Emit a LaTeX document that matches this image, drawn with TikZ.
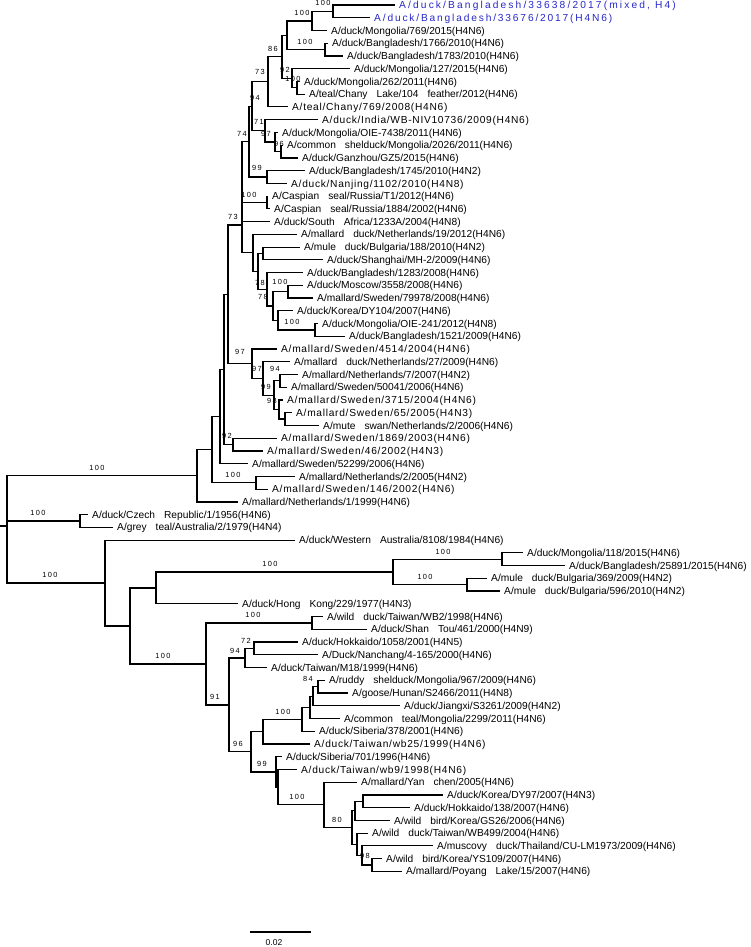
\documentclass[tikz,border=0pt]{standalone}
\usepackage{fontspec}
\setmainfont{Liberation Sans}
\newfontfamily\widefont[LetterSpace=7]{Liberation Sans}
\newfontfamily\bluefont[LetterSpace=18]{Liberation Sans}
\newfontfamily\bluewidefont[LetterSpace=21]{Liberation Sans}
\newfontfamily\bootfont[LetterSpace=18]{Liberation Sans}
\definecolor{strainblue}{RGB}{40,40,200}
\newcommand{\gap}{\hspace{9pt}}

\begin{document}
\begin{tikzpicture}[x=1pt,y=-1pt,
  branch/.style={line width=1.2pt},
  tip/.style={anchor=west,inner xsep=4pt,inner ysep=0pt,text height=8.3pt,text depth=1pt,
    font=\fontsize{10.2}{12}\selectfont},
  widetip/.style={tip,font=\widefont\fontsize{10.2}{12}\selectfont},
  bluetip/.style={tip,text=strainblue,font=\bluefont\fontsize{10.2}{12}\selectfont},
  bluewidetip/.style={tip,text=strainblue,font=\bluewidefont\fontsize{10.2}{12}\selectfont},
  boot/.style={inner sep=0pt,font=\bootfont\fontsize{7.4}{8}\selectfont}]
  \useasboundingbox (0,0) rectangle (750,947);

  % strains
  \node[bluewidetip] (t1) at (395,5.0) {A/duck/Bangladesh/33638/2017(mixed, H4)};
  \node[bluetip] (t2) at (370,17.7) {A/duck/Bangladesh/33676/2017(H4N6)};
  \node[tip] (t3) at (327,30.5) {A/duck/Mongolia/769/2015(H4N6)};
  \node[tip] (t4) at (328,43.2) {A/duck/Bangladesh/1766/2010(H4N6)};
  \node[tip] (t5) at (343,56.0) {A/duck/Bangladesh/1783/2010(H4N6)};
  \node[tip] (t6) at (350,68.7) {A/duck/Mongolia/127/2015(H4N6)};
  \node[tip] (t7) at (300,81.4) {A/duck/Mongolia/262/2011(H4N6)};
  \node[tip] (t8) at (305,94.2) {A/teal/Chany\gap Lake/104\gap feather/2012(H4N6)};
  \node[widetip] (t9) at (288,106.9) {A/teal/Chany/769/2008(H4N6)};
  \node[widetip] (t10) at (318,119.7) {A/duck/India/WB-NIV10736/2009(H4N6)};
  \node[tip] (t11) at (278,132.4) {A/duck/Mongolia/OIE-7438/2011(H4N6)};
  \node[tip] (t12) at (283,145.1) {A/common\gap shelduck/Mongolia/2026/2011(H4N6)};
  \node[tip] (t13) at (298,157.9) {A/duck/Ganzhou/GZ5/2015(H4N6)};
  \node[tip] (t14) at (305,170.6) {A/duck/Bangladesh/1745/2010(H4N2)};
  \node[widetip] (t15) at (287,183.4) {A/duck/Nanjing/1102/2010(H4N8)};
  \node[tip] (t16) at (268,196.1) {A/Caspian\gap seal/Russia/T1/2012(H4N6)};
  \node[tip] (t17) at (270,208.8) {A/Caspian\gap seal/Russia/1884/2002(H4N6)};
  \node[tip] (t18) at (270,221.6) {A/duck/South\gap Africa/1233A/2004(H4N8)};
  \node[tip] (t19) at (297,234.3) {A/mallard\gap duck/Netherlands/19/2012(H4N6)};
  \node[tip] (t20) at (300,247.1) {A/mule\gap duck/Bulgaria/188/2010(H4N2)};
  \node[tip] (t21) at (323,259.8) {A/duck/Shanghai/MH-2/2009(H4N6)};
  \node[tip] (t22) at (303,272.5) {A/duck/Bangladesh/1283/2008(H4N6)};
  \node[tip] (t23) at (303,285.3) {A/duck/Moscow/3558/2008(H4N6)};
  \node[tip] (t24) at (313,298.0) {A/mallard/Sweden/79978/2008(H4N6)};
  \node[tip] (t25) at (293,310.8) {A/duck/Korea/DY104/2007(H4N6)};
  \node[tip] (t26) at (318,323.5) {A/duck/Mongolia/OIE-241/2012(H4N8)};
  \node[tip] (t27) at (345,336.2) {A/duck/Bangladesh/1521/2009(H4N6)};
  \node[widetip] (t28) at (277,349.0) {A/mallard/Sweden/4514/2004(H4N6)};
  \node[tip] (t29) at (290,361.7) {A/mallard\gap duck/Netherlands/27/2009(H4N6)};
  \node[tip] (t30) at (298,374.5) {A/mallard/Netherlands/7/2007(H4N2)};
  \node[tip] (t31) at (287,387.2) {A/mallard/Sweden/50041/2006(H4N6)};
  \node[widetip] (t32) at (283,399.9) {A/mallard/Sweden/3715/2004(H4N6)};
  \node[widetip] (t33) at (292,412.7) {A/mallard/Sweden/65/2005(H4N3)};
  \node[tip] (t34) at (319,425.4) {A/mute\gap swan/Netherlands/2/2006(H4N6)};
  \node[widetip] (t35) at (277,438.2) {A/mallard/Sweden/1869/2003(H4N6)};
  \node[widetip] (t36) at (263,450.9) {A/mallard/Sweden/46/2002(H4N3)};
  \node[tip] (t37) at (248,463.6) {A/mallard/Sweden/52299/2006(H4N6)};
  \node[tip] (t38) at (295,476.4) {A/mallard/Netherlands/2/2005(H4N2)};
  \node[widetip] (t39) at (268,489.1) {A/mallard/Sweden/146/2002(H4N6)};
  \node[tip] (t40) at (238,501.9) {A/mallard/Netherlands/1/1999(H4N6)};
  \node[tip] (t41) at (88,514.6) {A/duck/Czech\gap Republic/1/1956(H4N6)};
  \node[tip] (t42) at (113,527.3) {A/grey\gap teal/Australia/2/1979(H4N4)};
  \node[tip] (t43) at (295,540.1) {A/duck/Western\gap Australia/8108/1984(H4N6)};
  \node[tip] (t44) at (523,552.8) {A/duck/Mongolia/118/2015(H4N6)};
  \node[tip] (t45) at (565,565.6) {A/duck/Bangladesh/25891/2015(H4N6)};
  \node[tip] (t46) at (487,578.3) {A/mule\gap duck/Bulgaria/369/2009(H4N2)};
  \node[tip] (t47) at (500,591.0) {A/mule\gap duck/Bulgaria/596/2010(H4N2)};
  \node[tip] (t48) at (238,603.8) {A/duck/Hong\gap Kong/229/1977(H4N3)};
  \node[tip] (t49) at (323,616.5) {A/wild\gap duck/Taiwan/WB2/1998(H4N6)};
  \node[tip] (t50) at (367,629.3) {A/duck/Shan\gap Tou/461/2000(H4N9)};
  \node[tip] (t51) at (298,642.0) {A/duck/Hokkaido/1058/2001(H4N5)};
  \node[tip] (t52) at (318,654.7) {A/Duck/Nanchang/4-165/2000(H4N6)};
  \node[tip] (t53) at (267,667.5) {A/duck/Taiwan/M18/1999(H4N6)};
  \node[tip] (t54) at (325,680.2) {A/ruddy\gap shelduck/Mongolia/967/2009(H4N6)};
  \node[tip] (t55) at (348,693.0) {A/goose/Hunan/S2466/2011(H4N8)};
  \node[tip] (t56) at (400,705.7) {A/duck/Jiangxi/S3261/2009(H4N2)};
  \node[tip] (t57) at (340,718.4) {A/common\gap teal/Mongolia/2299/2011(H4N6)};
  \node[tip] (t58) at (315,731.2) {A/duck/Siberia/378/2001(H4N6)};
  \node[widetip] (t59) at (310,743.9) {A/duck/Taiwan/wb25/1999(H4N6)};
  \node[tip] (t60) at (282,756.7) {A/duck/Siberia/701/1996(H4N6)};
  \node[widetip] (t61) at (297,769.4) {A/duck/Taiwan/wb9/1998(H4N6)};
  \node[tip] (t62) at (357,782.1) {A/mallard/Yan\gap chen/2005(H4N6)};
  \node[tip] (t63) at (443,794.9) {A/duck/Korea/DY97/2007(H4N3)};
  \node[tip] (t64) at (410,807.6) {A/duck/Hokkaido/138/2007(H4N6)};
  \node[tip] (t65) at (390,820.4) {A/wild\gap bird/Korea/GS26/2006(H4N6)};
  \node[tip] (t66) at (368,833.1) {A/wild\gap duck/Taiwan/WB499/2004(H4N6)};
  \node[tip] (t67) at (433,845.8) {A/muscovy\gap duck/Thailand/CU-LM1973/2009(H4N6)};
  \node[tip] (t68) at (382,858.6) {A/wild\gap bird/Korea/YS109/2007(H4N6)};
  \node[tip] (t69) at (402,871.3) {A/mallard/Poyang\gap Lake/15/2007(H4N6)};

  % internal nodes
  \coordinate (n1) at (333,11.4);  \coordinate (n2) at (312,21.0);
  \coordinate (n3) at (325,49.6);  \coordinate (n4) at (287,35.3);
  \coordinate (n5) at (297,87.8);  \coordinate (n6) at (292,78.3);
  \coordinate (n7) at (282,56.8);  \coordinate (n8) at (268,81.9);
  \coordinate (n9) at (281,151.5); \coordinate (n10) at (275,142.0);
  \coordinate (n11) at (265,130.8); \coordinate (n12) at (252,106.3);
  \coordinate (n13) at (267,177.0); \coordinate (n14) at (249,141.7);
  \coordinate (n15) at (267,202.5); \coordinate (n16) at (263,253.4);
  \coordinate (n17) at (288,291.7); \coordinate (n18) at (315,329.9);
  \coordinate (n19) at (278,320.3); \coordinate (n20) at (273,306.0);
  \coordinate (n21) at (267,289.3); \coordinate (n22) at (258,271.3);
  \coordinate (n23) at (253,252.8); \coordinate (n24) at (242,225.0);
  \coordinate (n25) at (280,380.8); \coordinate (n26) at (285,419.0);
  \coordinate (n27) at (279,409.5); \coordinate (n28) at (274,395.2);
  \coordinate (n29) at (263,378.4); \coordinate (n30) at (252,363.7);
  \coordinate (n31) at (228,294.3); \coordinate (n32) at (233,444.5);
  \coordinate (n33) at (224,369.4); \coordinate (n34) at (220,416.5);
  \coordinate (n35) at (256,482.7); \coordinate (n36) at (212,449.6);
  \coordinate (n37) at (197,475.7); \coordinate (n38) at (80,521.0);
  \coordinate (n39) at (502,559.2); \coordinate (n40) at (467,584.7);
  \coordinate (n41) at (393,572.0); \coordinate (n42) at (156,587.9);
  \coordinate (n43) at (312,622.9); \coordinate (n44) at (254,648.4);
  \coordinate (n45) at (245,658.0); \coordinate (n46) at (318,686.6);
  \coordinate (n47) at (313,696.1); \coordinate (n48) at (310,707.3);
  \coordinate (n49) at (302,719.2); \coordinate (n50) at (263,731.6);
  \coordinate (n51) at (363,801.3); \coordinate (n52) at (355,810.8);
  \coordinate (n53) at (372,865.0); \coordinate (n54) at (362,855.4);
  \coordinate (n55) at (357,844.2); \coordinate (n56) at (352,827.5);
  \coordinate (n57) at (324,804.8); \coordinate (n58) at (278,787.1);
  \coordinate (n59) at (276,771.9); \coordinate (n60) at (251,751.8);
  \coordinate (n61) at (229,704.9); \coordinate (n62) at (206,663.9);
  \coordinate (n63) at (130,625.9); \coordinate (n64) at (105,583.0);
  \coordinate (root) at (7,526);    \coordinate (stub) at (0,526);

  % branches to strains
  \foreach \p/\c in {n1/t1,n1/t2,n2/t3,n3/t4,n3/t5,n6/t6,n5/t7,n5/t8,n8/t9,n11/t10,
      n10/t11,n9/t12,n9/t13,n13/t14,n13/t15,n15/t16,n15/t17,n24/t18,n23/t19,n16/t20,
      n16/t21,n21/t22,n17/t23,n17/t24,n19/t25,n18/t26,n18/t27,n30/t28,n29/t29,n25/t30,
      n25/t31,n27/t32,n26/t33,n26/t34,n32/t35,n32/t36,n34/t37,n35/t38,n35/t39,n37/t40,
      n38/t41,n38/t42,n64/t43,n39/t44,n39/t45,n40/t46,n40/t47,n42/t48,n43/t49,n43/t50,
      n44/t51,n44/t52,n45/t53,n46/t54,n46/t55,n47/t56,n48/t57,n49/t58,n50/t59,n59/t60,
      n58/t61,n57/t62,n51/t63,n51/t64,n52/t65,n55/t66,n54/t67,n53/t68,n53/t69}
    \draw[branch] (\p) |- (\c.west);
  % inner branches
  \foreach \p/\c in {n2/n1,n4/n2,n4/n3,n6/n5,n7/n4,n7/n6,n8/n7,n10/n9,n11/n10,n12/n8,
      n12/n11,n14/n12,n14/n13,n24/n14,n24/n15,n22/n16,n20/n17,n19/n18,n20/n19,n21/n20,
      n22/n21,n23/n22,n24/n23,n31/n24,n28/n25,n27/n26,n28/n27,n29/n28,n30/n29,n31/n30,
      n33/n31,n33/n32,n34/n33,n36/n34,n36/n35,n37/n36,root/n37,root/n38,n41/n39,n41/n40,
      n42/n41,n63/n42,n62/n43,n45/n44,n61/n45,n47/n46,n48/n47,n49/n48,n50/n49,n60/n50,
      n52/n51,n56/n52,n54/n53,n55/n54,n56/n55,n57/n56,n58/n57,n59/n58,n60/n59,n61/n60,
      n62/n61,n63/n62,n64/n63,root/n64}
    \draw[branch] (\p) |- (\c);
  \draw[branch] (stub) -- (root);

  % bootstrap values
  \foreach \x/\y/\v [count=\k] in {323/3/100,302/13/100,305/42/100,273/49/86,285/70/92,
      293/79/100,260/72/73,255/98/94,259/122/71,266/134/97,279/144/96,242/134/74,
      257/168/99,249/195/100,233/217/73,260/283/78,280/282/100,263/297/78,292/322/100,
      240/352/97,257/369/97,275/369/94,266/387/99,272/401/98,227/436/92,233/475/100,
      97/468/100,38/513/100,50/575/100,270/564/100,443/552/100,425/577/100,163/656/100,
      253/615/100,246/641/72,235/651/94,215/697/91,308/679/84,283/712/100,238/744/96,
      262/764/99,297/797/100,337/820/80,365/856/98}
    \node[boot] (b\k) at (\x,\y) {\v};

  % scale bar
  \coordinate (s0) at (250,932);
  \coordinate (s1) at (311,932);
  \draw[line width=1.1pt] (s0) -- (s1);
  \node[font=\fontsize{8.5}{9}\selectfont] (scalelab) at (274,943) {0.02};
\end{tikzpicture}
\end{document}
